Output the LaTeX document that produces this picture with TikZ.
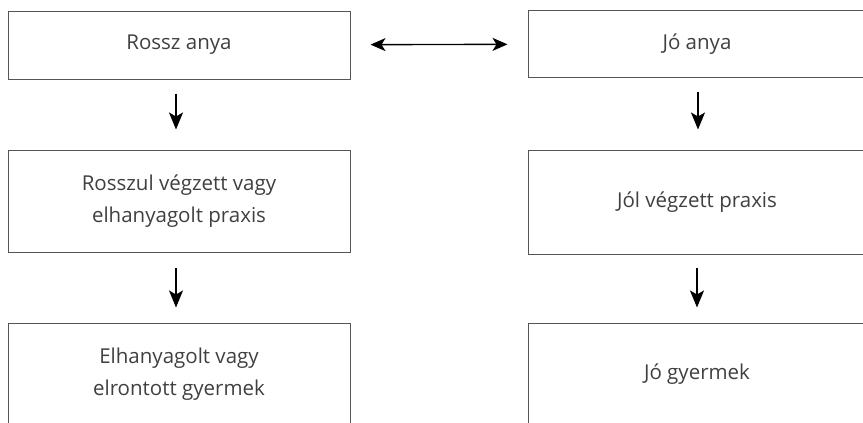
\documentclass[tikz,border=0pt]{standalone}
\usepackage{fontspec}
\setmainfont{Open Sans}
\usetikzlibrary{arrows.meta}
\definecolor{txt}{HTML}{404040}
\definecolor{brd}{HTML}{555555}
\tikzset{
  box/.style={draw=brd, line width=1pt, rectangle, text=txt, align=center,
    font=\fontsize{20.5}{32}\selectfont, inner sep=0pt},
  arr/.style={line width=1.4pt, -{Stealth[length=17pt,width=14pt,inset=4pt]}},
  darr/.style={line width=1.4pt, {Stealth[length=15pt,width=13pt,inset=4pt]}-{Stealth[length=15pt,width=13pt,inset=4pt]}}
}
\begin{document}
\begin{tikzpicture}[x=1pt,y=-1pt]
\useasboundingbox (0,0) rectangle (863,423);
\node[box, minimum width=342pt, minimum height=68pt] (rossz) at (179,45) {Rossz anya};
\node[box, minimum width=338pt, minimum height=67pt] (jo) at (697,44) {Jó anya};
\node[box, minimum width=342pt, minimum height=102pt] (rpraxis) at (179,201) {Rosszul végzett vagy\\elhanyagolt praxis};
\node[box, minimum width=338pt, minimum height=104pt] (jpraxis) at (697,202) {Jól végzett praxis};
\node[box, minimum width=342pt, minimum height=102pt] (rgyer) at (179,374) {Elhanyagolt vagy\\elrontott gyermek};
\node[box, minimum width=338pt, minimum height=102pt] (jgyer) at (697,374) {Jó gyermek};
\draw[darr, shorten <=20pt, shorten >=20pt] (rossz) -- (jo);
\draw[arr, shorten <=14pt, shorten >=20pt] ([xshift=-3pt]rossz.south) -- ([xshift=-3pt]rpraxis.north);
\draw[arr, shorten <=14pt, shorten >=20pt] ([xshift=1pt]jo.south) -- ([xshift=1pt]jpraxis.north);
\draw[arr, shorten <=15pt, shorten >=15pt] ([xshift=-3pt]rpraxis.south) -- ([xshift=-3pt]rgyer.north);
\draw[arr, shorten <=13pt, shorten >=15pt] (jpraxis.south) -- (jgyer.north);
\end{tikzpicture}
\end{document}
